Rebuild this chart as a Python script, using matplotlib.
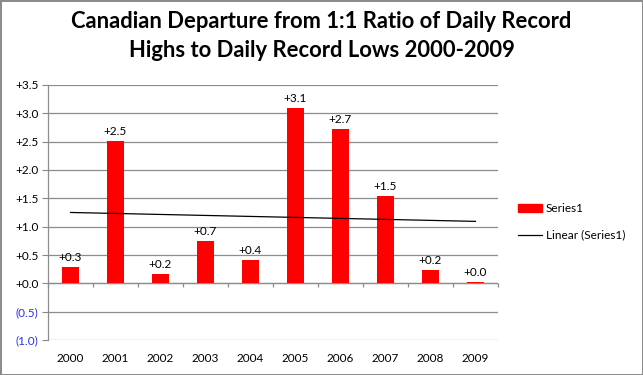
import numpy as np
import matplotlib.pyplot as plt
from matplotlib.patches import Rectangle
from matplotlib.lines import Line2D

# Daten
years = ["2000", "2001", "2002", "2003", "2004", "2005", "2006", "2007", "2008", "2009"]
departure = [0.29, 2.51, 0.16, 0.74, 0.42, 3.09, 2.72, 1.54, 0.23, 0.02]
y_ticks = [-1.0, -0.5, 0.0, 0.5, 1.0, 1.5, 2.0, 2.5, 3.0, 3.5]

plt.rcParams["font.family"] = ["Lato", "DejaVu Sans"]

fig = plt.figure(figsize=(6.43, 3.75), dpi=100)
fig.patch.set_edgecolor("#8c8c8c")
fig.patch.set_linewidth(2)

W, H = 643, 375
ax = fig.add_axes([48 / W, (H - 340) / H, 450 / W, 255 / H])

x = np.arange(len(years))
vals = np.array(departure)
bars = ax.bar(x, vals, width=0.38, color="#ff0000", zorder=3)

# Trendlinie (lineare Regression wie in Excel)
k, d = np.polyfit(x, vals, 1)
ax.plot(x, k * x + d, color="black", linewidth=0.9, zorder=4)

for xi, v in zip(x, vals):
    ax.text(xi, v + 0.07, f"+{v:.1f}", ha="center", va="bottom", fontsize=8.5, zorder=5)

ax.set_xlim(-0.5, len(years) - 0.5)
ax.set_ylim(-1.0, 3.5)
ax.set_yticks(y_ticks)
labels = [f"+{t:.1f}" if t >= 0 else f"({abs(t):.1f})" for t in y_ticks]
ax.set_yticklabels(labels, fontsize=8.5)
for lbl, t in zip(ax.get_yticklabels(), y_ticks):
    if t < 0:
        lbl.set_color("#3030e8")
ax.tick_params(axis="y", length=4, color="#888888", pad=3)
ax.yaxis.grid(True, color="#8c8c8c", linewidth=0.9, zorder=0)

ax.set_xticks(x)
ax.set_xticklabels(years, fontsize=8.5)
ax.tick_params(axis="x", length=0, pad=9)

for s in ["top", "right", "bottom"]:
    ax.spines[s].set_visible(False)
ax.spines["left"].set_color("#8c8c8c")
ax.spines["left"].set_linewidth(0.9)

# Kategorieachse bei Null mit Teilstrichen
ax.axhline(0, color="#8c8c8c", linewidth=0.9, zorder=2)
ax.vlines(np.arange(len(years) + 1) - 0.5, -0.07, 0, color="#8c8c8c", linewidth=0.9, clip_on=False)

fig.text(0.5, 1 - 11 / H, "Canadian Departure from 1:1 Ratio of Daily Record\nHighs to Daily Record Lows 2000-2009",
         ha="center", va="top", fontsize=15.8, fontweight="bold", linespacing=1.45)

handles = [Rectangle((0, 0), 1, 1, color="#ff0000"), Line2D([], [], color="black", linewidth=0.9)]
fig.legend(handles, ["Series1", "Linear (Series1)"], loc="center left",
           bbox_to_anchor=(507 / W, 1 - 222 / H), frameon=False, fontsize=8.5,
           handlelength=2.1, labelspacing=1.3, handletextpad=0.3)

fig.savefig("out.png", dpi=100)
